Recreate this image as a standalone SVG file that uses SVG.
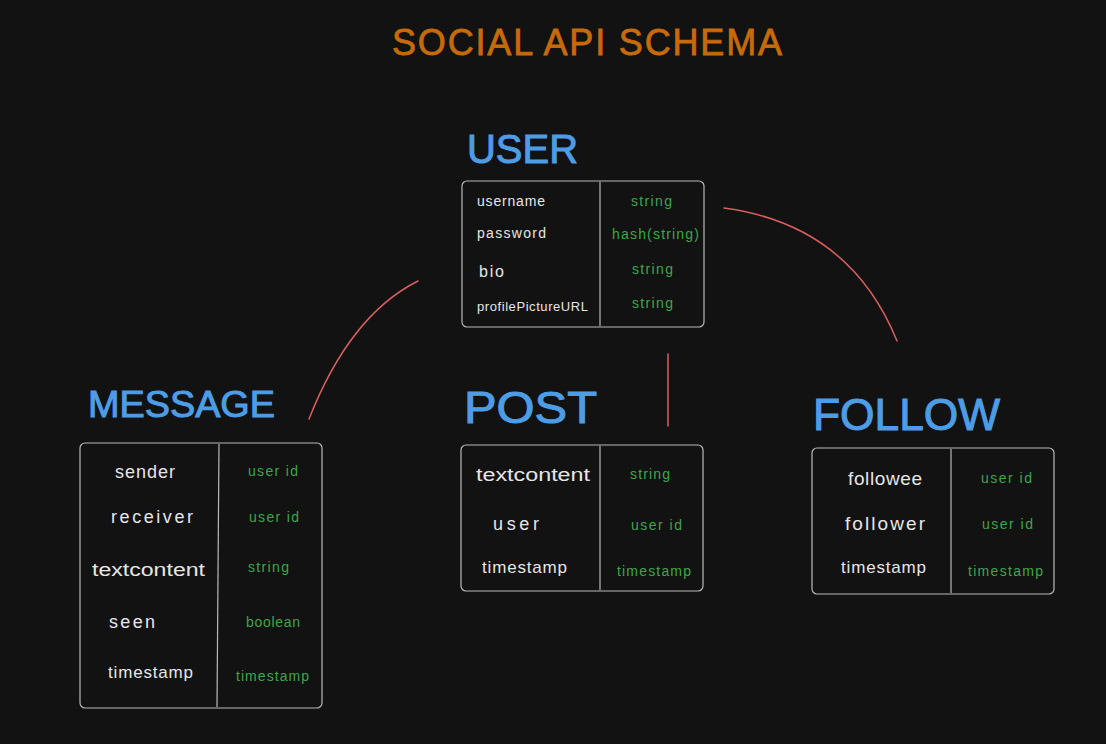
<svg xmlns="http://www.w3.org/2000/svg" width="1106" height="744" viewBox="0 0 1106 744">
<style>
.title{font-family:"Liberation Sans",Arial,sans-serif;fill:#c66a0a;stroke:#c66a0a;stroke-width:0.8;font-size:36px}
.hdr{font-family:"Liberation Sans",Arial,sans-serif;fill:#4d9de6;stroke:#4d9de6;stroke-width:1}
.fld{font-family:"Liberation Sans",Arial,sans-serif;fill:#e6e6e6}
.typ{font-family:"Liberation Sans",Arial,sans-serif;fill:#3fa64a}
.box{fill:#121212;stroke:#b9b9b9;stroke-width:1.2}
.div{stroke:#b9b9b9;stroke-width:1.2}
.conn{fill:none;stroke:#d95f5f;stroke-width:1.5;stroke-linecap:round}
</style>
<rect width="1106" height="744" fill="#121212"/>
<text class="title" x="392" y="55" textLength="390">SOCIAL API SCHEMA</text>
<g id="connectors">
<path class="conn" d="M418 281 Q350 315 309 419"/>
<path class="conn" d="M668 354 L668 426"/>
<path class="conn" d="M724 208 Q850 225 897 341"/>
</g>
<g id="user">
<text class="hdr" x="467" y="163" font-size="41" textLength="111" lengthAdjust="spacingAndGlyphs">USER</text>
<rect class="box" x="462" y="181" width="242" height="146" rx="5"/>
<line class="div" x1="600" y1="182" x2="600" y2="326"/>
<text class="fld" x="477" y="206" font-size="14" textLength="68">username</text>
<text class="fld" x="477" y="238" font-size="14" textLength="69">password</text>
<text class="fld" x="479" y="277" font-size="16" textLength="25">bio</text>
<text class="fld" x="477" y="311" font-size="13" textLength="111">profilePictureURL</text>
<text class="typ" x="631" y="206" font-size="14" textLength="41">string</text>
<text class="typ" x="612" y="239" font-size="14" textLength="87">hash(string)</text>
<text class="typ" x="632" y="274" font-size="14" textLength="41">string</text>
<text class="typ" x="632" y="308" font-size="14" textLength="41">string</text>
</g>
<g id="message">
<text class="hdr" x="88" y="417" font-size="37" textLength="187" lengthAdjust="spacingAndGlyphs">MESSAGE</text>
<rect class="box" x="80" y="443" width="242" height="265" rx="5"/>
<line class="div" x1="219" y1="444" x2="217" y2="707"/>
<text class="fld" x="115" y="478" font-size="18" textLength="60">sender</text>
<text class="fld" x="111" y="523" font-size="18" textLength="82">receiver</text>
<text class="fld" x="92" y="576" font-size="18" textLength="113" lengthAdjust="spacingAndGlyphs">textcontent</text>
<text class="fld" x="109" y="628" font-size="18" textLength="46">seen</text>
<text class="fld" x="108" y="678" font-size="17" textLength="85">timestamp</text>
<text class="typ" x="248" y="476" font-size="14" textLength="50">user id</text>
<text class="typ" x="249" y="522" font-size="14" textLength="50">user id</text>
<text class="typ" x="248" y="572" font-size="14" textLength="41">string</text>
<text class="typ" x="246" y="627" font-size="14" textLength="54">boolean</text>
<text class="typ" x="236" y="681" font-size="14" textLength="73">timestamp</text>
</g>
<g id="post">
<text class="hdr" x="464" y="423" font-size="44" textLength="133" lengthAdjust="spacingAndGlyphs">POST</text>
<rect class="box" x="461" y="445" width="242" height="146" rx="5"/>
<line class="div" x1="600" y1="446" x2="600" y2="590"/>
<text class="fld" x="476" y="481" font-size="18" textLength="114" lengthAdjust="spacingAndGlyphs">textcontent</text>
<text class="fld" x="493" y="530" font-size="18" textLength="46">user</text>
<text class="fld" x="482" y="573" font-size="17" textLength="85">timestamp</text>
<text class="typ" x="630" y="479" font-size="14" textLength="40">string</text>
<text class="typ" x="631" y="530" font-size="14" textLength="51">user id</text>
<text class="typ" x="617" y="576" font-size="14" textLength="74">timestamp</text>
</g>
<g id="follow">
<text class="hdr" x="813" y="430" font-size="44" textLength="187" lengthAdjust="spacingAndGlyphs">FOLLOW</text>
<rect class="box" x="812" y="448" width="242" height="146" rx="5"/>
<line class="div" x1="951" y1="449" x2="951" y2="593"/>
<text class="fld" x="848" y="485" font-size="19" textLength="74">followee</text>
<text class="fld" x="845" y="530" font-size="19" textLength="80">follower</text>
<text class="fld" x="841" y="573" font-size="17" textLength="85">timestamp</text>
<text class="typ" x="981" y="483" font-size="14" textLength="51">user id</text>
<text class="typ" x="982" y="529" font-size="14" textLength="51">user id</text>
<text class="typ" x="968" y="576" font-size="14" textLength="75">timestamp</text>
</g>
</svg>
